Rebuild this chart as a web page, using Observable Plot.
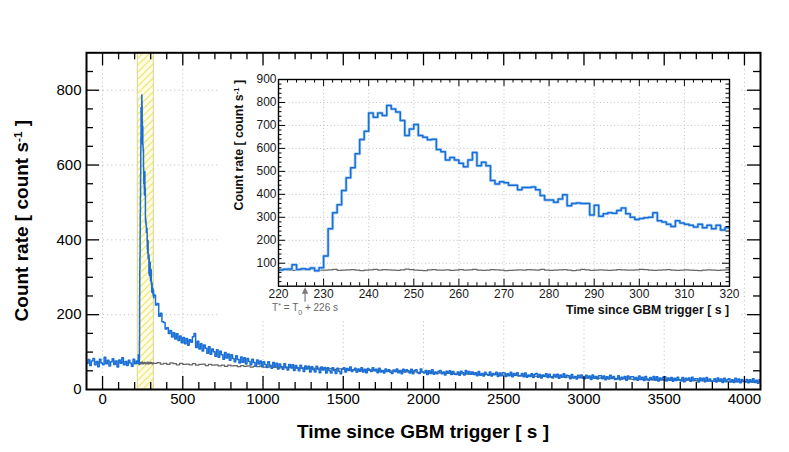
<!DOCTYPE html>
<html><head><meta charset="utf-8">
<script src="https://cdn.jsdelivr.net/npm/d3@7"></script>
<script src="https://cdn.jsdelivr.net/npm/@observablehq/plot@0.6"></script>
<style>
body{margin:0;background:#fff;}
#wrap{position:relative;width:789px;height:452px;}
#wrap svg{display:block;}
</style></head><body><div id="wrap"></div>
<script>
// ---------------- DATA ----------------
const mainXDomain = [-100, 4100];
const mainYDomain = [0, 900];
const mainXTicks = [0, 500, 1000, 1500, 2000, 2500, 3000, 3500, 4000];
const mainYTicks = [0, 200, 400, 600, 800];
const insetXDomain = [220, 320];
const insetYDomain = [0, 900];
const insetXTicks = [220, 230, 240, 250, 260, 270, 280, 290, 300, 310, 320];
const insetYTicks = [100, 200, 300, 400, 500, 600, 700, 800, 900];
const selection = [220, 320];     // hatched interval shown in the inset
const tStar = 226;                // T* = T0 + 226 s

const mainXTitle = "Time since GBM trigger [ s ]";
const yTitleParts = ["Count rate [ count s", "-1", " ]"];
const tStarParts = ["T", "*", " = T", "0", " + 226 s"];

// blue: count rate, binned (start, width) per segment
const blueEarlyStart = -100, blueEarlyWidth = 10;
const blueEarly = [70,80,64,76,83,66,75,61,81,71, 66,86,69,78,63,74,82,67,76,60, 79,70,85,66,75,64,78,71,62,81, 69,76];

const burstStart = 220, burstWidth = 1;
const burstBlue = [
  70,74,75,93,73,76,74,79,67,80,
  132,250,320,355,417,472,516,577,639,675,
  754,736,754,743,787,772,758,722,656,685,
  704,656,649,638,640,595,585,550,560,550,
  535,520,550,582,525,540,525,460,445,455,
  450,440,440,420,430,430,432,420,395,375,
  375,365,380,398,350,360,362,360,360,310,
  352,305,315,320,318,330,340,315,300,290,
  295,298,300,320,285,280,270,260,285,275,
  270,265,258,270,255,265,250,265,245,255];
const burstGray = [
  70,71,70,69,70,72,71,75,72,70,
  70,71,73,69,70,71,72,70,68,70,
  71,73,70,72,71,70,69,71,74,72,
  70,69,68,71,72,70,70,71,69,70,
  72,70,71,73,70,69,70,72,71,70,
  68,69,70,71,70,72,71,70,73,70,
  69,70,71,72,70,68,70,73,71,69,
  70,71,70,69,70,72,71,70,70,71,
  73,72,70,69,70,71,72,70,69,70,
  71,70,69,68,70,71,70,69,70,71];

const tailAStart = 320, tailAWidth = 10;
const blueTailA = [
  252,226,230,196,204,181,179,162,165,150,
  158,140,152,135,149,131,143,125,139,122,
  136,118,133,126,141,150,112,129,108,122,
  103,119,110,97,114,94,108,101,89,106,
  86,102,93,81,99,84,95,78,93,83,
  74,90,80,71,87,73,85,68,83,75,
  66,81,72,63,79,68,76,61,74,67,
  59,74,65,57,72,62,70,55,68,61,
  54,69,60,52,67,58,66,51,64,57,
  50,65,57,48,63,55,62,47,61,53,
  47,62,54,45,60,52,59,44,58,50,
  44,58,51,43,57,49,42,55];

const tailBStart = 1500, tailBWidth = 10;
const blueTailB = [
  58,47,56,51,60,48,53,57,46,55,
  49,58,47,54,45,56,53,48,58,50,
  54,45,57,47,51,44,55,48,53,46,
  43,52,48,55,45,51,42,54,47,53,
  50,44,54,42,51,53,45,43,55,47,
  44,51,40,50,43,53,41,47,42,49,
  51,42,47,39,49,44,50,40,48,41,
  40,47,38,49,45,39,51,42,48,41,
  47,40,45,37,48,38,43,36,46,41,
  38,47,36,43,40,46,35,44,37,45,
  44,35,42,37,46,34,43,38,45,36,
  36,43,34,44,33,39,35,42,32,41,
  43,33,40,31,39,35,42,32,41,34,
  31,40,34,41,30,39,33,42,32,38,
  37,29,40,31,35,28,38,32,39,30,
  29,38,31,36,27,39,30,35,28,37,
  37,29,36,26,34,28,38,30,35,27,
  28,37,26,33,29,35,25,36,30,34,
  34,26,32,25,36,27,33,24,35,28,
  24,32,27,35,25,34,23,31,26,33,
  34,23,31,25,32,22,30,24,33,26,
  23,32,21,30,26,31,22,33,24,29,
  29,20,31,24,30,21,32,23,28,22,
  22,29,20,31,23,28,19,30,21,27,
  29,20,26,19,30,21,28,18,27,23,
  21,27,18,26,20,29,19,25,17,26];

// gray: background model
const grayTailStart = 320, grayTailWidth = 20;
const grayTail = [
  70,72,68,70,67,71,69,66,70,67,
  68,66,69,65,67,68,64,67,65,66,
  63,65,62,65,63,64,61,64,62,63,60,62,61,63,60,
  60,61,59,60,58,60,58,59,57,59,57,58,56,58,57,
  56,57,55,56,55,56,54,55,55,54,
  53,53,52,52,53,52,51,52,51,50,51,50,49,50,49,48,49,48,48,47,48,47,46,47,46,
  45,46,45,44,45,44,43,44,43,42,43,42,42,41,42,41,40,41,40,40,39,40,39,38,39,
  38,39,38,37,38,37,36,37,36,35,36,35,35,34,35,34,33,34,33,33,32,33,32,31,32,
  31,32,31,30,31,30,30,29,30,29,28,29,28,28,27,28,27,27,26,27,26,26,25,26,25,
  26,25,26,25,25,24,25,24,24,23,24,23,23,23,22,23,22,22,22,21,22,21,21,21,20,21,20,20,21];

// ---------------- BUILD ----------------
function bins(start, width, vals) { return vals.map((v, i) => ({t: start + i * width, v})); }
function closeSteps(arr, width) { const l = arr[arr.length - 1]; return arr.concat([{t: l.t + width, v: l.v}]); }

const blueMain = closeSteps([
  ...bins(blueEarlyStart, blueEarlyWidth, blueEarly),
  ...bins(burstStart, burstWidth, burstBlue),
  ...bins(tailAStart, tailAWidth, blueTailA),
  ...bins(tailBStart, tailBWidth, blueTailB)], tailBWidth);
const grayMain = closeSteps([
  ...bins(burstStart, burstWidth, burstGray),
  ...bins(grayTailStart, grayTailWidth, grayTail)], grayTailWidth);
const blueInset = closeSteps(bins(burstStart, burstWidth, burstBlue), burstWidth);
const grayInset = closeSteps(bins(burstStart, burstWidth, burstGray), burstWidth);

const FONT = "'Liberation Sans', Arial, Helvetica, sans-serif";
const BLUE = "#1a6fd6", GRAY = "#666666", GRID = "#c4c4c4";

function frameTicks(xMaj, xMin, yMaj, yMin, fw, fh, maj, min, sw) {
  const s = {stroke: "black", strokeWidth: sw};
  return [
    Plot.ruleX(xMaj, {...s, insetTop: fh - maj}),
    Plot.ruleX(xMaj, {...s, insetBottom: fh - maj}),
    Plot.ruleX(xMin, {...s, insetTop: fh - min}),
    Plot.ruleX(xMin, {...s, insetBottom: fh - min}),
    Plot.ruleY(yMaj, {...s, insetRight: fw - maj}),
    Plot.ruleY(yMaj, {...s, insetLeft: fw - maj}),
    Plot.ruleY(yMin, {...s, insetRight: fw - min}),
    Plot.ruleY(yMin, {...s, insetLeft: fw - min})
  ];
}

// ---------------- MAIN PLOT ----------------
const W = 789, H = 452, mL = 86, mR = 29, mT = 52.3, mB = 63;
const fW = W - mL - mR, fH = H - mT - mB;
const mainXMinor = d3.range(0, 4100, 100).filter(v => v % 500 !== 0);
const mainYMinor = d3.range(50, 900, 50).filter(v => v % 200 !== 0);
const mainXMajorIn = mainXTicks.filter(v => v > mainXDomain[0] && v < mainXDomain[1]);
const mainYMajorIn = mainYTicks.filter(v => v > mainYDomain[0] && v < mainYDomain[1]);

const main = Plot.plot({
  width: W, height: H, marginLeft: mL, marginRight: mR, marginTop: mT, marginBottom: mB,
  x: {domain: mainXDomain, axis: null},
  y: {domain: mainYDomain, axis: null},
  style: {fontFamily: FONT, fontSize: "15px", background: "white", color: "black"},
  marks: [
    Plot.ruleX(mainXMajorIn, {stroke: GRID, strokeDasharray: "1.2,3"}),
    Plot.ruleY(mainYMajorIn, {stroke: GRID, strokeDasharray: "1.2,3"}),
    Plot.rect([selection], {x1: d => d[0], x2: d => d[1], fill: "url(#hatch)", stroke: "#dcdca2", strokeWidth: 1.2}),
    Plot.line(grayMain, {x: "t", y: "v", curve: "step-after", stroke: GRAY, strokeWidth: 1.3, clip: true}),
    Plot.line(blueMain, {x: "t", y: "v", curve: "step-after", stroke: BLUE, strokeWidth: 1.5, clip: true}),
    ...frameTicks(mainXMajorIn, mainXMinor, mainYMajorIn, mainYMinor, fW, fH, 13, 7, 1.3),
    Plot.frame({stroke: "black", strokeWidth: 2}),
    Plot.text(mainXTicks, {x: d => d, text: d => String(d), frameAnchor: "bottom", lineAnchor: "top", dy: 4, fontSize: 15, fill: "black"}),
    Plot.text(mainYTicks, {y: d => d, text: d => String(d), frameAnchor: "left", textAnchor: "end", dx: -5, fontSize: 15, fill: "black"})
  ]
});

const sM = d3.select(main);
const pat = sM.insert("defs", ":first-child").append("pattern")
  .attr("id", "hatch").attr("patternUnits", "userSpaceOnUse").attr("width", 7).attr("height", 7);
pat.append("rect").attr("width", 7).attr("height", 7).attr("fill", "#fffde6");
pat.append("path").attr("d", "M-1,1L1,-1M0,7L7,0M6,8L8,6").attr("stroke", "#f1e77e").attr("stroke-width", 1.3);

sM.append("text").attr("x", mL + fW / 2).attr("y", 438).attr("text-anchor", "middle")
  .attr("font-size", 19).attr("font-weight", "bold").attr("fill", "black").text(mainXTitle);
const yt = sM.append("text").attr("transform", `translate(28,${mT + fH / 2}) rotate(-90)`)
  .attr("text-anchor", "middle").attr("font-size", 19).attr("font-weight", "bold").attr("fill", "black");
yt.append("tspan").text(yTitleParts[0]);
yt.append("tspan").attr("baseline-shift", "super").attr("font-size", "62%").text(yTitleParts[1]);
yt.append("tspan").text(yTitleParts[2]);

document.getElementById("wrap").appendChild(main);

// ---------------- INSET ----------------
const iW = 522, iH = 249, imL = 60, imR = 11, imT = 10, imB = 32.3;
const ifW = iW - imL - imR, ifH = iH - imT - imB;
const insetXMajorIn = insetXTicks.filter(v => v > insetXDomain[0] && v < insetXDomain[1]);
const insetYMajorIn = insetYTicks.filter(v => v > insetYDomain[0] && v < insetYDomain[1]);
const insetXMinor = d3.range(222, 320, 2).filter(v => v % 10 !== 0);
const insetYMinor = d3.range(20, 900, 20).filter(v => v % 100 !== 0);

const inset = Plot.plot({
  width: iW, height: iH, marginLeft: imL, marginRight: imR, marginTop: imT, marginBottom: imB,
  x: {domain: insetXDomain, axis: null},
  y: {domain: insetYDomain, axis: null},
  style: {fontFamily: FONT, fontSize: "12px", background: "white", color: "black"},
  marks: [
    Plot.ruleX(insetXMajorIn, {stroke: GRID, strokeDasharray: "1,2.5"}),
    Plot.ruleY(insetYMajorIn, {stroke: GRID, strokeDasharray: "1,2.5"}),
    Plot.line(grayInset, {x: "t", y: "v", curve: "step-after", stroke: GRAY, strokeWidth: 1.3, clip: true}),
    Plot.line(blueInset, {x: "t", y: "v", curve: "step-after", stroke: "#a9cff4", strokeWidth: 3, clip: true}),
    Plot.line(blueInset, {x: "t", y: "v", curve: "step-after", stroke: BLUE, strokeWidth: 1.5, clip: true}),
    ...frameTicks(insetXMajorIn, insetXMinor, insetYMajorIn, insetYMinor, ifW, ifH, 7, 3.5, 1),
    Plot.frame({stroke: "black", strokeWidth: 1.4}),
    Plot.text(insetXTicks, {x: d => d, text: d => String(d), frameAnchor: "bottom", lineAnchor: "top", dy: 3, fontSize: 12, fill: "#1a1a1a"}),
    Plot.text(insetYTicks, {y: d => d, text: d => String(d), frameAnchor: "left", textAnchor: "end", dx: -2, fontSize: 12, fill: "#1a1a1a"})
  ]
});
inset.style.position = "absolute";
inset.style.left = "218px";
inset.style.top = "69px";

const sI = d3.select(inset);
const fb = imT + ifH;
sI.append("text").attr("x", imL + ifW).attr("y", fb + 28.3).attr("text-anchor", "end")
  .attr("font-size", 12.3).attr("font-weight", "bold").attr("fill", "#111").text(mainXTitle);
const iyt = sI.append("text").attr("transform", `translate(24.5,${imT + 1}) rotate(-90)`)
  .attr("text-anchor", "end").attr("font-size", 12.3).attr("font-weight", "bold").attr("fill", "#111");
iyt.append("tspan").text(yTitleParts[0]);
iyt.append("tspan").attr("baseline-shift", "super").attr("font-size", "62%").text(yTitleParts[1]);
iyt.append("tspan").text(yTitleParts[2]);

const ax = inset.scale("x").apply(tStar);
sI.append("line").attr("x1", ax).attr("x2", ax).attr("y1", fb + 16).attr("y2", fb + 6)
  .attr("stroke", "#7a7a7a").attr("stroke-width", 1.2);
sI.append("path").attr("d", `M${ax},${fb + 1.5}L${ax - 3.2},${fb + 8}L${ax + 3.2},${fb + 8}Z`).attr("fill", "#7a7a7a");
const tt = sI.append("text").attr("x", ax).attr("y", fb + 25.5).attr("text-anchor", "middle")
  .attr("font-size", 10).attr("fill", "#666");
tt.append("tspan").text(tStarParts[0]);
tt.append("tspan").attr("baseline-shift", "super").attr("font-size", "70%").text(tStarParts[1]);
tt.append("tspan").text(tStarParts[2]);
tt.append("tspan").attr("baseline-shift", "sub").attr("font-size", "70%").text(tStarParts[3]);
tt.append("tspan").text(tStarParts[4]);

document.getElementById("wrap").appendChild(inset);
</script></body></html>
